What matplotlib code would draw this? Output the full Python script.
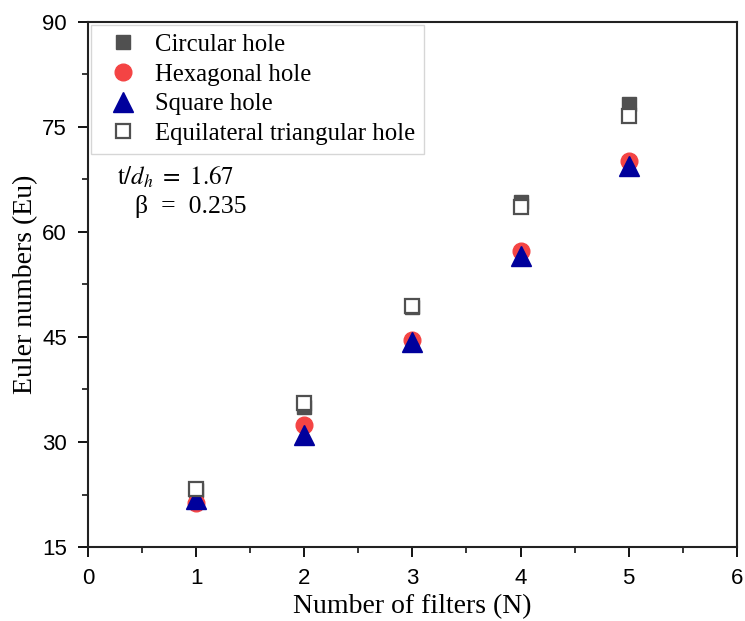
import matplotlib
matplotlib.use('Agg')
from matplotlib import pyplot
from matplotlib.ticker import MultipleLocator

# Euler number vs. number of filters for the four hole shapes
filters = [1, 2, 3, 4, 5]
circular = [23.2, 35.0, 49.3, 64.2, 78.3]
hexagonal = [21.3, 32.4, 44.6, 57.2, 70.1]
square = [21.9, 31.0, 44.3, 56.6, 69.4]
triangular = [23.3, 35.6, 49.4, 63.6, 76.5]

pyplot.rcParams['mathtext.fontset'] = 'stix'

serif = 'Liberation Serif'
sans = 'Liberation Sans'

fig = pyplot.figure(figsize=(7.45, 6.21), dpi=100)
ax = fig.add_axes([0.118, 0.119, 0.871, 0.846])

ax.plot(filters, circular, ls='none', marker='s', ms=10,
        mfc='#505050', mec='#505050', label='Circular hole')
ax.plot(filters, hexagonal, ls='none', marker='o', ms=12,
        mfc='#f44444', mec='#f44444', label='Hexagonal hole')
ax.plot(filters, square, ls='none', marker='^', ms=14,
        mfc='#00009c', mec='#00009c', label='Square hole')
ax.plot(filters, triangular, ls='none', marker='s', ms=10,
        mfc='white', mec='#505050', mew=1.6, label='Equilateral triangular hole')

ax.set_xlim(0, 6)
ax.set_ylim(15, 90)
ax.xaxis.set_major_locator(MultipleLocator(1))
ax.xaxis.set_minor_locator(MultipleLocator(0.5))
ax.yaxis.set_major_locator(MultipleLocator(15))
ax.yaxis.set_minor_locator(MultipleLocator(7.5))
ax.tick_params(which='major', direction='out', length=7, width=1.3,
               labelsize=16, pad=8)
ax.tick_params(which='minor', direction='out', length=4, width=1.1)
for lab in ax.get_xticklabels() + ax.get_yticklabels():
    lab.set_fontfamily(sans)
for sp in ax.spines.values():
    sp.set_linewidth(1.5)
    sp.set_color('#222222')

ax.set_xlabel('Number of filters (N)', fontfamily=serif, fontsize=20, labelpad=4)
ax.set_ylabel('Euler numbers (Eu)', fontfamily=serif, fontsize=20, labelpad=3)

leg = ax.legend(loc='upper left', bbox_to_anchor=(0.005, 0.994),
                borderaxespad=0.0,
                prop={'family': serif, 'size': 17.8}, frameon=True,
                fancybox=False, edgecolor='#cccccc', handletextpad=0.34,
                labelspacing=0.30, borderpad=0.35, handlelength=1.9)
leg.get_frame().set_linewidth(1.0)

ax.text(0.045, 0.69, r'$\mathrm{t}/d_h\ =\ 1.67$', transform=ax.transAxes,
        fontsize=18)
ax.text(0.072, 0.636, 'β  =  0.235', transform=ax.transAxes,
        fontfamily=serif, fontsize=18.5)

fig.savefig('out.png', dpi=100)
